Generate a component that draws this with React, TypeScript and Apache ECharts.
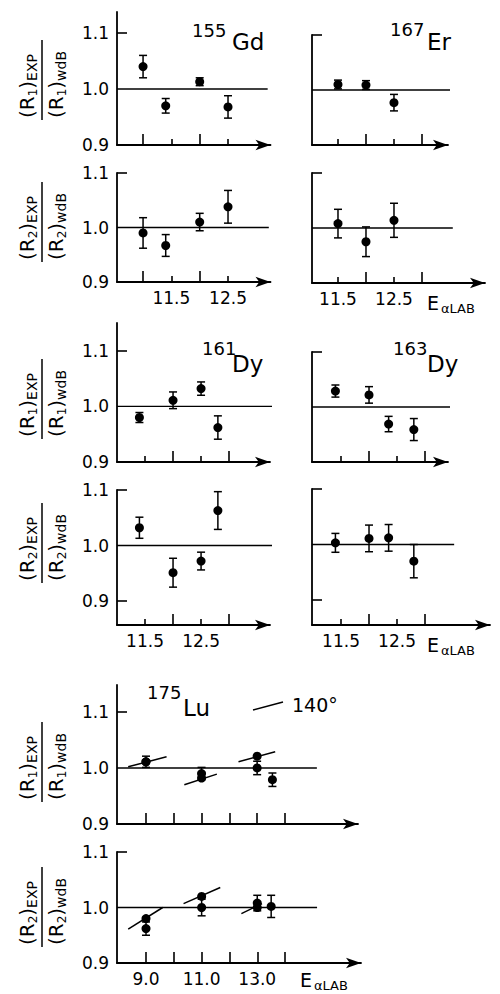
import React, { useEffect, useRef } from 'react';
import * as echarts from 'echarts';

const FONT = '"DejaVu Sans", sans-serif';

// ---------- data ----------
// 155Gd
const gdR1Energy = [11.0, 11.4, 12.0, 12.5];
const gdR1Ratio = [1.04, 0.97, 1.013, 0.968];
const gdR1Err = [0.02, 0.013, 0.007, 0.02];
const gdR2Energy = [11.0, 11.4, 12.0, 12.5];
const gdR2Ratio = [0.99, 0.967, 1.01, 1.038];
const gdR2Err = [0.028, 0.02, 0.016, 0.03];
// 167Er
const erR1Energy = [11.5, 12.0, 12.5];
const erR1Ratio = [1.01, 1.009, 0.977];
const erR1Err = [0.008, 0.008, 0.015];
const erR2Energy = [11.5, 12.0, 12.5];
const erR2Ratio = [1.008, 0.975, 1.014];
const erR2Err = [0.026, 0.027, 0.031];
// 161Dy
const dy161R1Energy = [11.4, 12.0, 12.5, 12.8];
const dy161R1Ratio = [0.98, 1.011, 1.032, 0.962];
const dy161R1Err = [0.009, 0.015, 0.012, 0.021];
const dy161R2Energy = [11.4, 12.0, 12.5, 12.8];
const dy161R2Ratio = [1.032, 0.951, 0.972, 1.063];
const dy161R2Err = [0.019, 0.026, 0.016, 0.034];
// 163Dy
const dy163R1Energy = [11.4, 12.0, 12.35, 12.8];
const dy163R1Ratio = [1.029, 1.022, 0.969, 0.959];
const dy163R1Err = [0.011, 0.015, 0.014, 0.02];
const dy163R2Energy = [11.4, 12.0, 12.35, 12.8];
const dy163R2Ratio = [1.003, 1.011, 1.012, 0.97];
const dy163R2Err = [0.017, 0.024, 0.024, 0.03];
// 175Lu
const luR1Energy = [9.0, 11.0, 13.0, 13.55];
const luR1Ratio = [1.011, 0.99, 1.0, 0.979];
const luR1Err = [0.01, 0.011, 0.012, 0.012];
const luR1At140Energy = [9.0, 11.0, 13.0];
const luR1At140Ratio = [1.011, 0.982, 1.021];
const luR1At140Slope = [[8.36, 1.002, 9.74, 1.02], [10.38, 0.97, 11.55, 0.989], [12.33, 1.011, 13.65, 1.029]];
const luR2Energy = [9.0, 11.0, 13.0, 13.5];
const luR2Ratio = [0.962, 1.0, 1.008, 1.002];
const luR2Err = [0.012, 0.015, 0.014, 0.02];
const luR2At140Energy = [9.0, 11.0, 13.0];
const luR2At140Ratio = [0.98, 1.02, 1.0];
const luR2At140Slope = [[8.36, 0.961, 9.6, 1.0], [10.35, 1.007, 11.67, 1.036], [12.43, 0.989, 13.17, 1.007]];

// ticks
const yTickLabels = [0.9, 1.0, 1.1];
const gdMajorTicks = [11, 12];
const halfTicks = [11.5, 12.5];
const upperMajorTicks = [12, 13];
const midLabels = [11.5, 12.5];
const luMajorTicks = [9, 10, 11, 12, 13, 14];
const luLabels = [9.0, 11.0, 13.0];
const refValue = 1.0;

// ---------- layout ----------
type Panel = {
  left: number; top: number; width: number; height: number;
  xMin: number; xMax: number; yMin: number; yMax: number;
  major: number[]; minor: number[]; xLabels: number[];
  yTicks: number[]; yLabels: boolean; refEnd: number;
  e: number[]; v: number[]; err: number[];
  e140?: number[]; v140?: number[]; seg140?: number[][];
};

const panels: Panel[] = [
  { left: 117, top: 12, width: 153.5, height: 133, xMin: 10.54, xMax: 13.25, yMin: 0.9, yMax: 1.1375,
    major: gdMajorTicks, minor: halfTicks, xLabels: [], yTicks: [1.1], yLabels: true, refEnd: 13.2,
    e: gdR1Energy, v: gdR1Ratio, err: gdR1Err },
  { left: 117, top: 173, width: 153.5, height: 109, xMin: 10.54, xMax: 13.25, yMin: 0.9, yMax: 1.1,
    major: gdMajorTicks, minor: halfTicks, xLabels: midLabels, yTicks: [1.1], yLabels: true, refEnd: 13.22,
    e: gdR2Energy, v: gdR2Ratio, err: gdR2Err },
  { left: 312, top: 35, width: 136, height: 110, xMin: 11.036, xMax: 13.465, yMin: 0.9, yMax: 1.1,
    major: upperMajorTicks, minor: halfTicks, xLabels: [], yTicks: [1.1], yLabels: false, refEnd: 13.56,
    e: erR1Energy, v: erR1Ratio, err: erR1Err },
  { left: 312, top: 173, width: 173, height: 110, xMin: 11.036, xMax: 14.125, yMin: 0.9, yMax: 1.1,
    major: upperMajorTicks, minor: halfTicks, xLabels: midLabels, yTicks: [1.1], yLabels: false, refEnd: 13.55,
    e: erR2Energy, v: erR2Ratio, err: erR2Err },
  { left: 117, top: 323, width: 153, height: 139, xMin: 11.0, xMax: 13.73, yMin: 0.9, yMax: 1.15,
    major: upperMajorTicks, minor: halfTicks, xLabels: [], yTicks: [1.1], yLabels: true, refEnd: 13.79,
    e: dy161R1Energy, v: dy161R1Ratio, err: dy161R1Err },
  { left: 117, top: 490, width: 153, height: 135, xMin: 11.0, xMax: 13.73, yMin: 0.8568, yMax: 1.1,
    major: upperMajorTicks, minor: halfTicks, xLabels: midLabels, yTicks: [0.9, 1.1], yLabels: true, refEnd: 13.77,
    e: dy161R2Energy, v: dy161R2Ratio, err: dy161R2Err },
  { left: 312, top: 352, width: 136, height: 110, xMin: 10.982, xMax: 13.41, yMin: 0.9, yMax: 1.1,
    major: upperMajorTicks, minor: halfTicks, xLabels: [], yTicks: [1.1], yLabels: false, refEnd: 13.48,
    e: dy163R1Energy, v: dy163R1Ratio, err: dy163R1Err },
  { left: 312, top: 489, width: 178, height: 136, xMin: 10.982, xMax: 14.16, yMin: 0.855, yMax: 1.1,
    major: upperMajorTicks, minor: halfTicks, xLabels: midLabels, yTicks: [0.9, 1.1], yLabels: false, refEnd: 13.52,
    e: dy163R2Energy, v: dy163R2Ratio, err: dy163R2Err },
  { left: 117, top: 685, width: 241, height: 139, xMin: 7.957, xMax: 16.63, yMin: 0.9, yMax: 1.148,
    major: luMajorTicks, minor: [], xLabels: [], yTicks: [1.1], yLabels: true, refEnd: 15.15,
    e: luR1Energy, v: luR1Ratio, err: luR1Err, e140: luR1At140Energy, v140: luR1At140Ratio, seg140: luR1At140Slope },
  { left: 117, top: 852, width: 244, height: 111, xMin: 7.957, xMax: 16.73, yMin: 0.9, yMax: 1.1,
    major: luMajorTicks, minor: [], xLabels: luLabels, yTicks: [1.1], yLabels: true, refEnd: 15.15,
    e: luR2Energy, v: luR2Ratio, err: luR2Err, e140: luR2At140Energy, v140: luR2At140Ratio, seg140: luR2At140Slope },
];

const yTitles = [
  { cy: 80, n: '1' }, { cy: 222, n: '2' },
  { cy: 399, n: '1' }, { cy: 543, n: '2' },
  { cy: 762, n: '1' }, { cy: 907, n: '2' },
];

const isotopes = [
  { mass: '155', sym: 'Gd', mx: 192, my: 30, sx: 232, sy: 42 },
  { mass: '167', sym: 'Er', mx: 390, my: 29, sx: 427, sy: 42 },
  { mass: '161', sym: 'Dy', mx: 202, my: 348, sx: 232, sy: 364 },
  { mass: '163', sym: 'Dy', mx: 393, my: 348, sx: 427, sy: 364 },
  { mass: '175', sym: 'Lu', mx: 147, my: 692, sx: 183, sy: 708 },
];

const energyLabels = [
  { x: 427, y: 303 },
  { x: 427, y: 645 },
  { x: 300, y: 980 },
];

function txt(x: number, y: number, text: string, size: number, align = 'left') {
  return {
    type: 'text', x, y,
    style: {
      text, fontSize: size, fontFamily: FONT, fill: '#000',
      align, verticalAlign: 'middle', textAlign: align, textVerticalAlign: 'middle',
    },
  };
}

const fracRich = {
  m: { fontSize: 20, fontFamily: FONT, lineHeight: 24, fill: '#000' },
  s: { fontSize: 12, fontFamily: FONT, verticalAlign: 'bottom', fill: '#000' },
  e: { fontSize: 14, fontFamily: FONT, verticalAlign: 'bottom', fill: '#000' },
};

function fracTitle(cy: number, n: string) {
  return {
    type: 'group', x: 42, y: cy, rotation: Math.PI / 2,
    children: [
      { type: 'line', shape: { x1: -40, y1: 0, x2: 40, y2: 0 }, style: { stroke: '#000', lineWidth: 1.5 } },
      { type: 'text', x: -38, y: -3, style: { text: `{m|(R}{s|${n}}{m|)}{e|EXP}`, rich: fracRich, fill: '#000', align: 'left', verticalAlign: 'bottom', textAlign: 'left', textVerticalAlign: 'bottom' } },
      { type: 'text', x: -38, y: 2, style: { text: `{m|(R}{s|${n}}{m|)}{e|wdB}`, rich: fracRich, fill: '#000', align: 'left', verticalAlign: 'top', textAlign: 'left', textVerticalAlign: 'top' } },
    ],
  };
}

function buildOption() {
  const grid: any[] = [];
  const xAxis: any[] = [];
  const yAxis: any[] = [];
  const series: any[] = [];
  const black = '#000';

  panels.forEach((p, i) => {
    grid.push({ left: p.left, top: p.top, width: p.width, height: p.height, containLabel: false, outerBoundsMode: 'none' });
    xAxis.push({
      gridIndex: i, type: 'value', position: 'bottom', min: p.xMin, max: p.xMax,
      axisLine: { show: true, onZero: false, symbol: ['none', 'arrow'], symbolSize: [8, 15], lineStyle: { color: black, width: 1.8 } },
      axisTick: { show: true, inside: true, length: 11, customValues: p.major, lineStyle: { color: black, width: 1.6 } },
      axisLabel: { show: p.xLabels.length > 0, customValues: p.xLabels, formatter: (v: number) => v.toFixed(1), color: black, fontSize: 17, fontFamily: FONT, margin: 7 },
      splitLine: { show: false },
    });
    xAxis.push({
      gridIndex: i, type: 'value', position: 'bottom', min: p.xMin, max: p.xMax,
      axisLine: { show: false },
      axisTick: { show: p.minor.length > 0, inside: true, length: 6, customValues: p.minor, lineStyle: { color: black, width: 1.6 } },
      axisLabel: { show: false },
      splitLine: { show: false },
    });
    yAxis.push({
      gridIndex: i, type: 'value', min: p.yMin, max: p.yMax,
      axisLine: { show: true, onZero: false, lineStyle: { color: black, width: 1.8 } },
      axisTick: { show: true, inside: true, length: 10, customValues: p.yTicks, lineStyle: { color: black, width: 1.6 } },
      axisLabel: { show: p.yLabels, customValues: yTickLabels, formatter: (v: number) => v.toFixed(1), color: black, fontSize: 17, fontFamily: FONT, margin: 8 },
      splitLine: { show: false },
    });
    const xi = 2 * i;
    series.push({
      type: 'line', xAxisIndex: xi, yAxisIndex: i, data: [[p.xMin, refValue], [p.refEnd, refValue]],
      symbol: 'none', lineStyle: { color: black, width: 1.4, opacity: 1 }, clip: false, silent: true,
    });
    series.push({
      type: 'custom', xAxisIndex: xi, yAxisIndex: i, clip: false, silent: true,
      data: p.e.map((e, k) => [e, p.v[k], p.err[k]]),
      encode: { x: 0, y: 1 },
      renderItem: (params: any, api: any) => {
        const x = api.value(0), y = api.value(1), d = api.value(2);
        const t = api.coord([x, y + d]);
        const b = api.coord([x, y - d]);
        const hw = 4;
        const st = { stroke: black, lineWidth: 1.5 };
        return {
          type: 'group', children: [
            { type: 'line', shape: { x1: t[0], y1: t[1], x2: b[0], y2: b[1] }, style: st },
            { type: 'line', shape: { x1: t[0] - hw, y1: t[1], x2: t[0] + hw, y2: t[1] }, style: st },
            { type: 'line', shape: { x1: b[0] - hw, y1: b[1], x2: b[0] + hw, y2: b[1] }, style: st },
          ],
        };
      },
    });
    if (p.seg140 && p.e140 && p.v140) {
      series.push({
        type: 'custom', xAxisIndex: xi, yAxisIndex: i, clip: false, silent: true,
        data: p.seg140,
        encode: { x: [0, 2], y: [1, 3] },
        renderItem: (params: any, api: any) => {
          const a = api.coord([api.value(0), api.value(1)]);
          const b = api.coord([api.value(2), api.value(3)]);
          return { type: 'line', shape: { x1: a[0], y1: a[1], x2: b[0], y2: b[1] }, style: { stroke: black, lineWidth: 1.5 } };
        },
      });
      series.push({
        type: 'scatter', xAxisIndex: xi, yAxisIndex: i, clip: false, silent: true,
        data: p.e140.map((e, k) => [e, p.v140![k]]), symbol: 'circle', symbolSize: 9, itemStyle: { color: black, opacity: 1 },
      });
    }
    series.push({
      type: 'scatter', xAxisIndex: xi, yAxisIndex: i, clip: false, silent: true,
      data: p.e.map((e, k) => [e, p.v[k]]), symbol: 'circle', symbolSize: 9, itemStyle: { color: black, opacity: 1 },
    });
  });

  const graphic: any[] = [];
  yTitles.forEach((t) => graphic.push(fracTitle(t.cy, t.n)));
  isotopes.forEach((s) => {
    graphic.push(txt(s.mx, s.my, s.mass, 18));
    graphic.push(txt(s.sx, s.sy, s.sym, 23));
  });
  energyLabels.forEach((l) => {
    graphic.push(txt(l.x, l.y, 'E', 19));
    graphic.push(txt(l.x + 14, l.y + 5, 'αLAB', 13));
  });
  graphic.push({ type: 'line', shape: { x1: 253, y1: 710, x2: 283, y2: 702 }, style: { stroke: black, lineWidth: 1.5 } });
  graphic.push(txt(292, 705, '140°', 19));

  return {
    animation: false,
    backgroundColor: '#fff',
    textStyle: { fontFamily: FONT, color: black },
    grid, xAxis, yAxis, series, graphic,
  };
}

export default function App() {
  const ref = useRef<HTMLDivElement>(null);
  useEffect(() => {
    if (!ref.current) return;
    const chart = echarts.init(ref.current, null, { renderer: 'svg' });
    chart.setOption(buildOption() as any);
    return () => chart.dispose();
  }, []);
  return <div ref={ref} style={{ position: 'fixed', left: 0, top: 0, width: 500, height: 994, background: '#fff' }} />;
}
